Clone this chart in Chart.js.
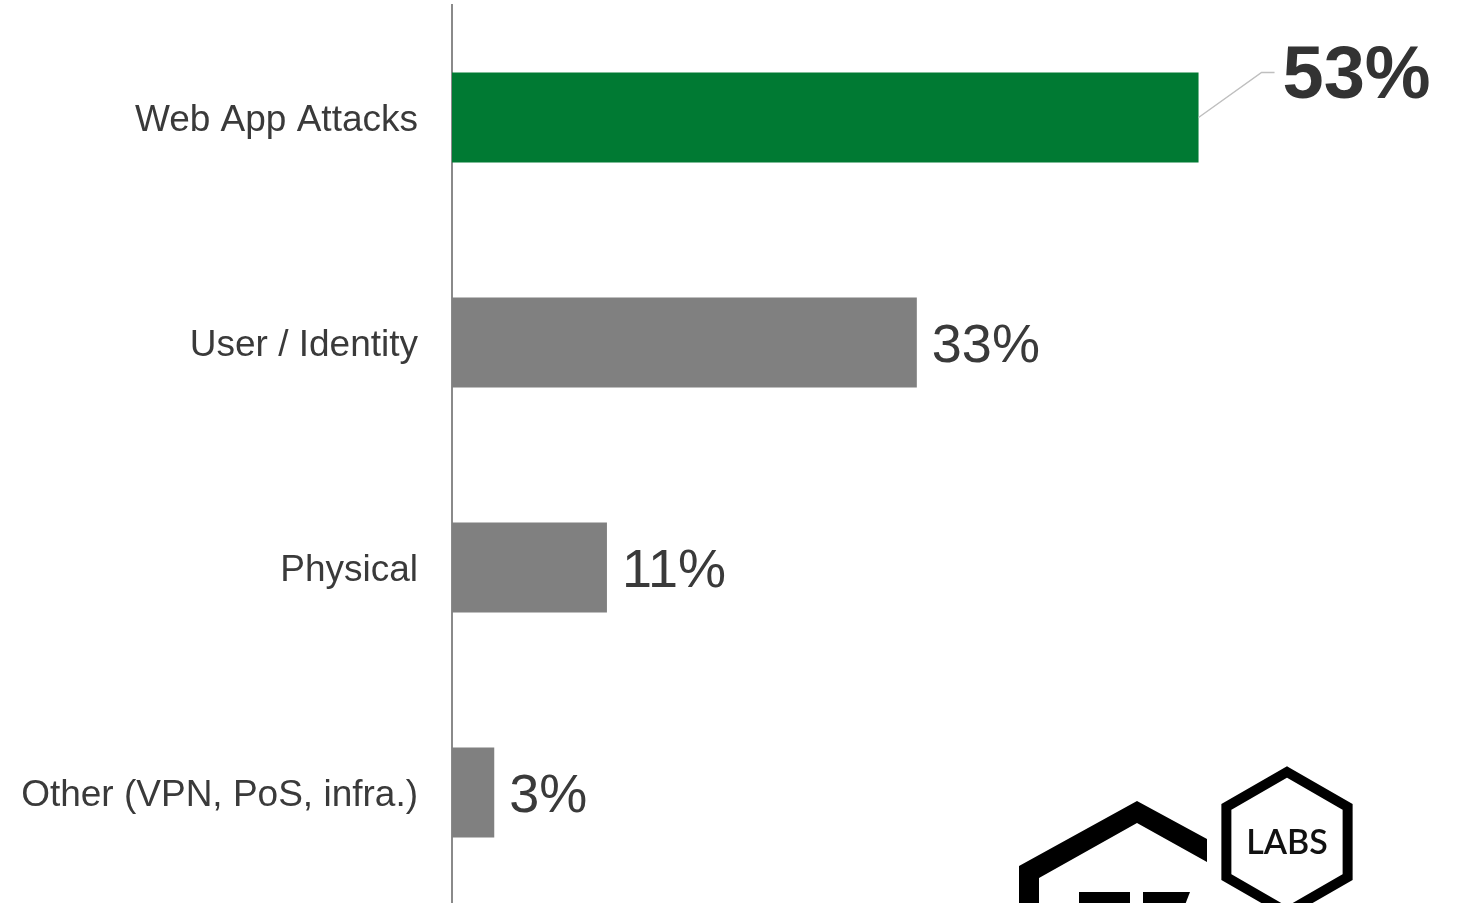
<!DOCTYPE html>
<html>
<head>
<meta charset="utf-8">
<script src="https://cdn.jsdelivr.net/npm/chart.js@4/dist/chart.umd.min.js"></script>
<style>
  html, body { margin: 0; padding: 0; background: #ffffff; overflow: hidden; }
  #wrap { position: relative; width: 1458px; height: 910px; }
</style>
</head>
<body>
<div id="wrap"><canvas id="c"></canvas></div>
<script>
const categories = ["Web App Attacks", "User / Identity", "Physical", "Other (VPN, PoS, infra.)"];
const values = [53, 33, 11, 3];
const valueLabels = ["53%", "33%", "11%", "3%"];
const barColors = ["#007a33", "#808080", "#808080", "#808080"];
const highlightIndex = 0;

const valueLabelPlugin = {
  id: 'valueLabels',
  afterDatasetsDraw(chart) {
    const ctx = chart.ctx;
    const meta = chart.getDatasetMeta(0);
    ctx.save();
    meta.data.forEach((bar, i) => {
      if (i === highlightIndex) {
        ctx.strokeStyle = '#bfbfbf';
        ctx.lineWidth = 1.5;
        ctx.beginPath();
        ctx.moveTo(bar.x, bar.y);
        ctx.lineTo(bar.x + 63, bar.y - 45);
        ctx.lineTo(bar.x + 76, bar.y - 45);
        ctx.stroke();
        ctx.fillStyle = '#333333';
        ctx.font = 'bold 74px "Liberation Sans", Arial, sans-serif';
        ctx.textAlign = 'left';
        ctx.textBaseline = 'middle';
        ctx.fillText(valueLabels[i], bar.x + 84, bar.y - 40);
      } else {
        ctx.fillStyle = '#3a3a3a';
        ctx.font = '54px "Liberation Sans", Arial, sans-serif';
        ctx.textAlign = 'left';
        ctx.textBaseline = 'middle';
        ctx.fillText(valueLabels[i], bar.x + 15, bar.y + 5);
      }
    });
    ctx.restore();
  }
};

const logoPlugin = {
  id: 'logo',
  afterDraw(chart) {
    const ctx = chart.ctx;
    ctx.save();
    ctx.fillStyle = '#000';
    ctx.beginPath();
    ctx.moveTo(1019, 910);
    ctx.lineTo(1019, 866);
    ctx.lineTo(1137, 801);
    ctx.lineTo(1207, 839);
    ctx.lineTo(1207, 862);
    ctx.lineTo(1137, 823);
    ctx.lineTo(1039, 878);
    ctx.lineTo(1039, 910);
    ctx.closePath();
    ctx.fill();
    ctx.fillRect(1079, 892, 51, 20);
    ctx.beginPath();
    ctx.moveTo(1143, 892);
    ctx.lineTo(1190, 892);
    ctx.lineTo(1183, 910);
    ctx.lineTo(1143, 910);
    ctx.closePath();
    ctx.fill();
    const cx = 1287, cy = 842, r = 70;
    ctx.strokeStyle = '#000';
    ctx.lineWidth = 10;
    ctx.lineJoin = 'miter';
    ctx.beginPath();
    for (let k = 0; k < 6; k++) {
      const a = -Math.PI / 2 + k * Math.PI / 3;
      const px = cx + r * Math.cos(a), py = cy + r * Math.sin(a);
      if (k === 0) ctx.moveTo(px, py); else ctx.lineTo(px, py);
    }
    ctx.closePath();
    ctx.stroke();
    ctx.fillStyle = '#111';
    ctx.font = '600 34px Lato, "DejaVu Sans", sans-serif';
    ctx.textAlign = 'center';
    ctx.textBaseline = 'middle';
    ctx.fillText('LABS', cx, cy + 1);
    ctx.restore();
  }
};

new Chart(document.getElementById('c'), {
  type: 'bar',
  data: {
    labels: categories,
    datasets: [{
      data: values,
      backgroundColor: barColors,
      borderWidth: 0,
      barPercentage: 0.4,
      categoryPercentage: 1.0
    }]
  },
  options: {
    indexAxis: 'y',
    responsive: true,
    maintainAspectRatio: false,
    animation: false,
    layout: { padding: { top: 5, bottom: 5, left: 0, right: 20 } },
    plugins: { legend: { display: false }, tooltip: { enabled: false } },
    scales: {
      x: {
        display: false,
        min: 0,
        max: 70,
        grid: { display: false }
      },
      y: {
        afterFit(scale) { scale.width = 452; scale.paddingTop = 0; scale.paddingBottom = 0; },
        grid: { display: false, drawTicks: false },
        border: { display: true, color: '#8a8a8a', width: 2 },
        ticks: {
          padding: 34,
          labelOffset: 3,
          color: '#3a3a3a',
          font: { family: '"Liberation Sans", Arial, sans-serif', size: 37 }
        }
      }
    }
  },
  plugins: [valueLabelPlugin, logoPlugin]
});
</script>
</body>
</html>
